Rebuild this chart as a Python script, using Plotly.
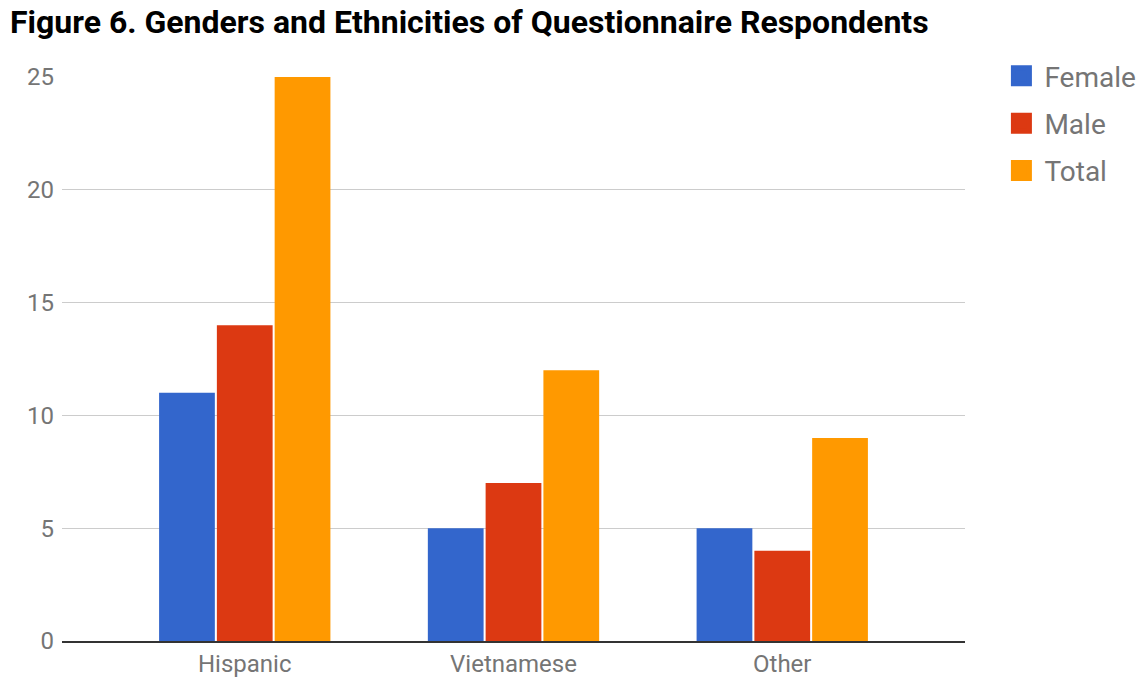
import plotly.graph_objects as go

categories = ["Hispanic", "Vietnamese", "Other"]
female = [11, 5, 5]
male = [14, 7, 4]
total = [25, 12, 9]
series_names = ["Female", "Male", "Total"]
colors = ["#3366CC", "#DC3912", "#FF9900"]
y_ticks = [0, 5, 10, 15, 20, 25]

fig = go.Figure()
for i, (name, vals, col) in enumerate(zip(series_names, [female, male, total], colors)):
    fig.add_trace(go.Bar(x=categories, y=vals, name=name, marker=dict(color=col, line=dict(width=0)),
                         showlegend=False, hoverinfo="x+y+name"))
for i, (name, col) in enumerate(zip(series_names, colors)):
    fig.add_trace(go.Scatter(x=[None], y=[None], mode="markers", name=name,
                             legendgroup=name,
                             marker=dict(symbol="square", size=16, color=col,
                                         line=dict(width=5, color=col))))

fig.update_layout(
    width=1145, height=677,
    margin=dict(l=62, r=180, t=77, b=36, autoexpand=False),
    paper_bgcolor="white", plot_bgcolor="white",
    barmode="group", bargap=0.355, bargroupgap=0.035,
    font=dict(family="Roboto", color="#757575"),
    title=dict(text="<b>Figure 6. Genders and Ethnicities of Questionnaire Respondents</b>",
               x=10/1145, xanchor="left", y=1-22/677, yanchor="middle",
               font=dict(family="Roboto", size=32, color="#000000")),
    xaxis=dict(range=[-0.68, 2.68], showgrid=False, tickfont=dict(size=24, color="#757575"),
               showline=True, linecolor="#333333", linewidth=1.5, ticks="", fixedrange=True,
               automargin=False),
    yaxis=dict(range=[0, 25], tickvals=y_ticks, showgrid=True, gridcolor="#CCCCCC", gridwidth=1,
               zeroline=False, tickfont=dict(size=24, color="#757575"), ticks="", ticklabelstandoff=7,
               showline=False, automargin=False),
    legend=dict(x=1.037, xanchor="left", y=1.046, yanchor="top", traceorder="grouped",
                tracegroupgap=8, font=dict(family="Roboto", size=28, color="#757575"),
                itemsizing="trace", itemwidth=36),
)

fig.write_html("out.html")
